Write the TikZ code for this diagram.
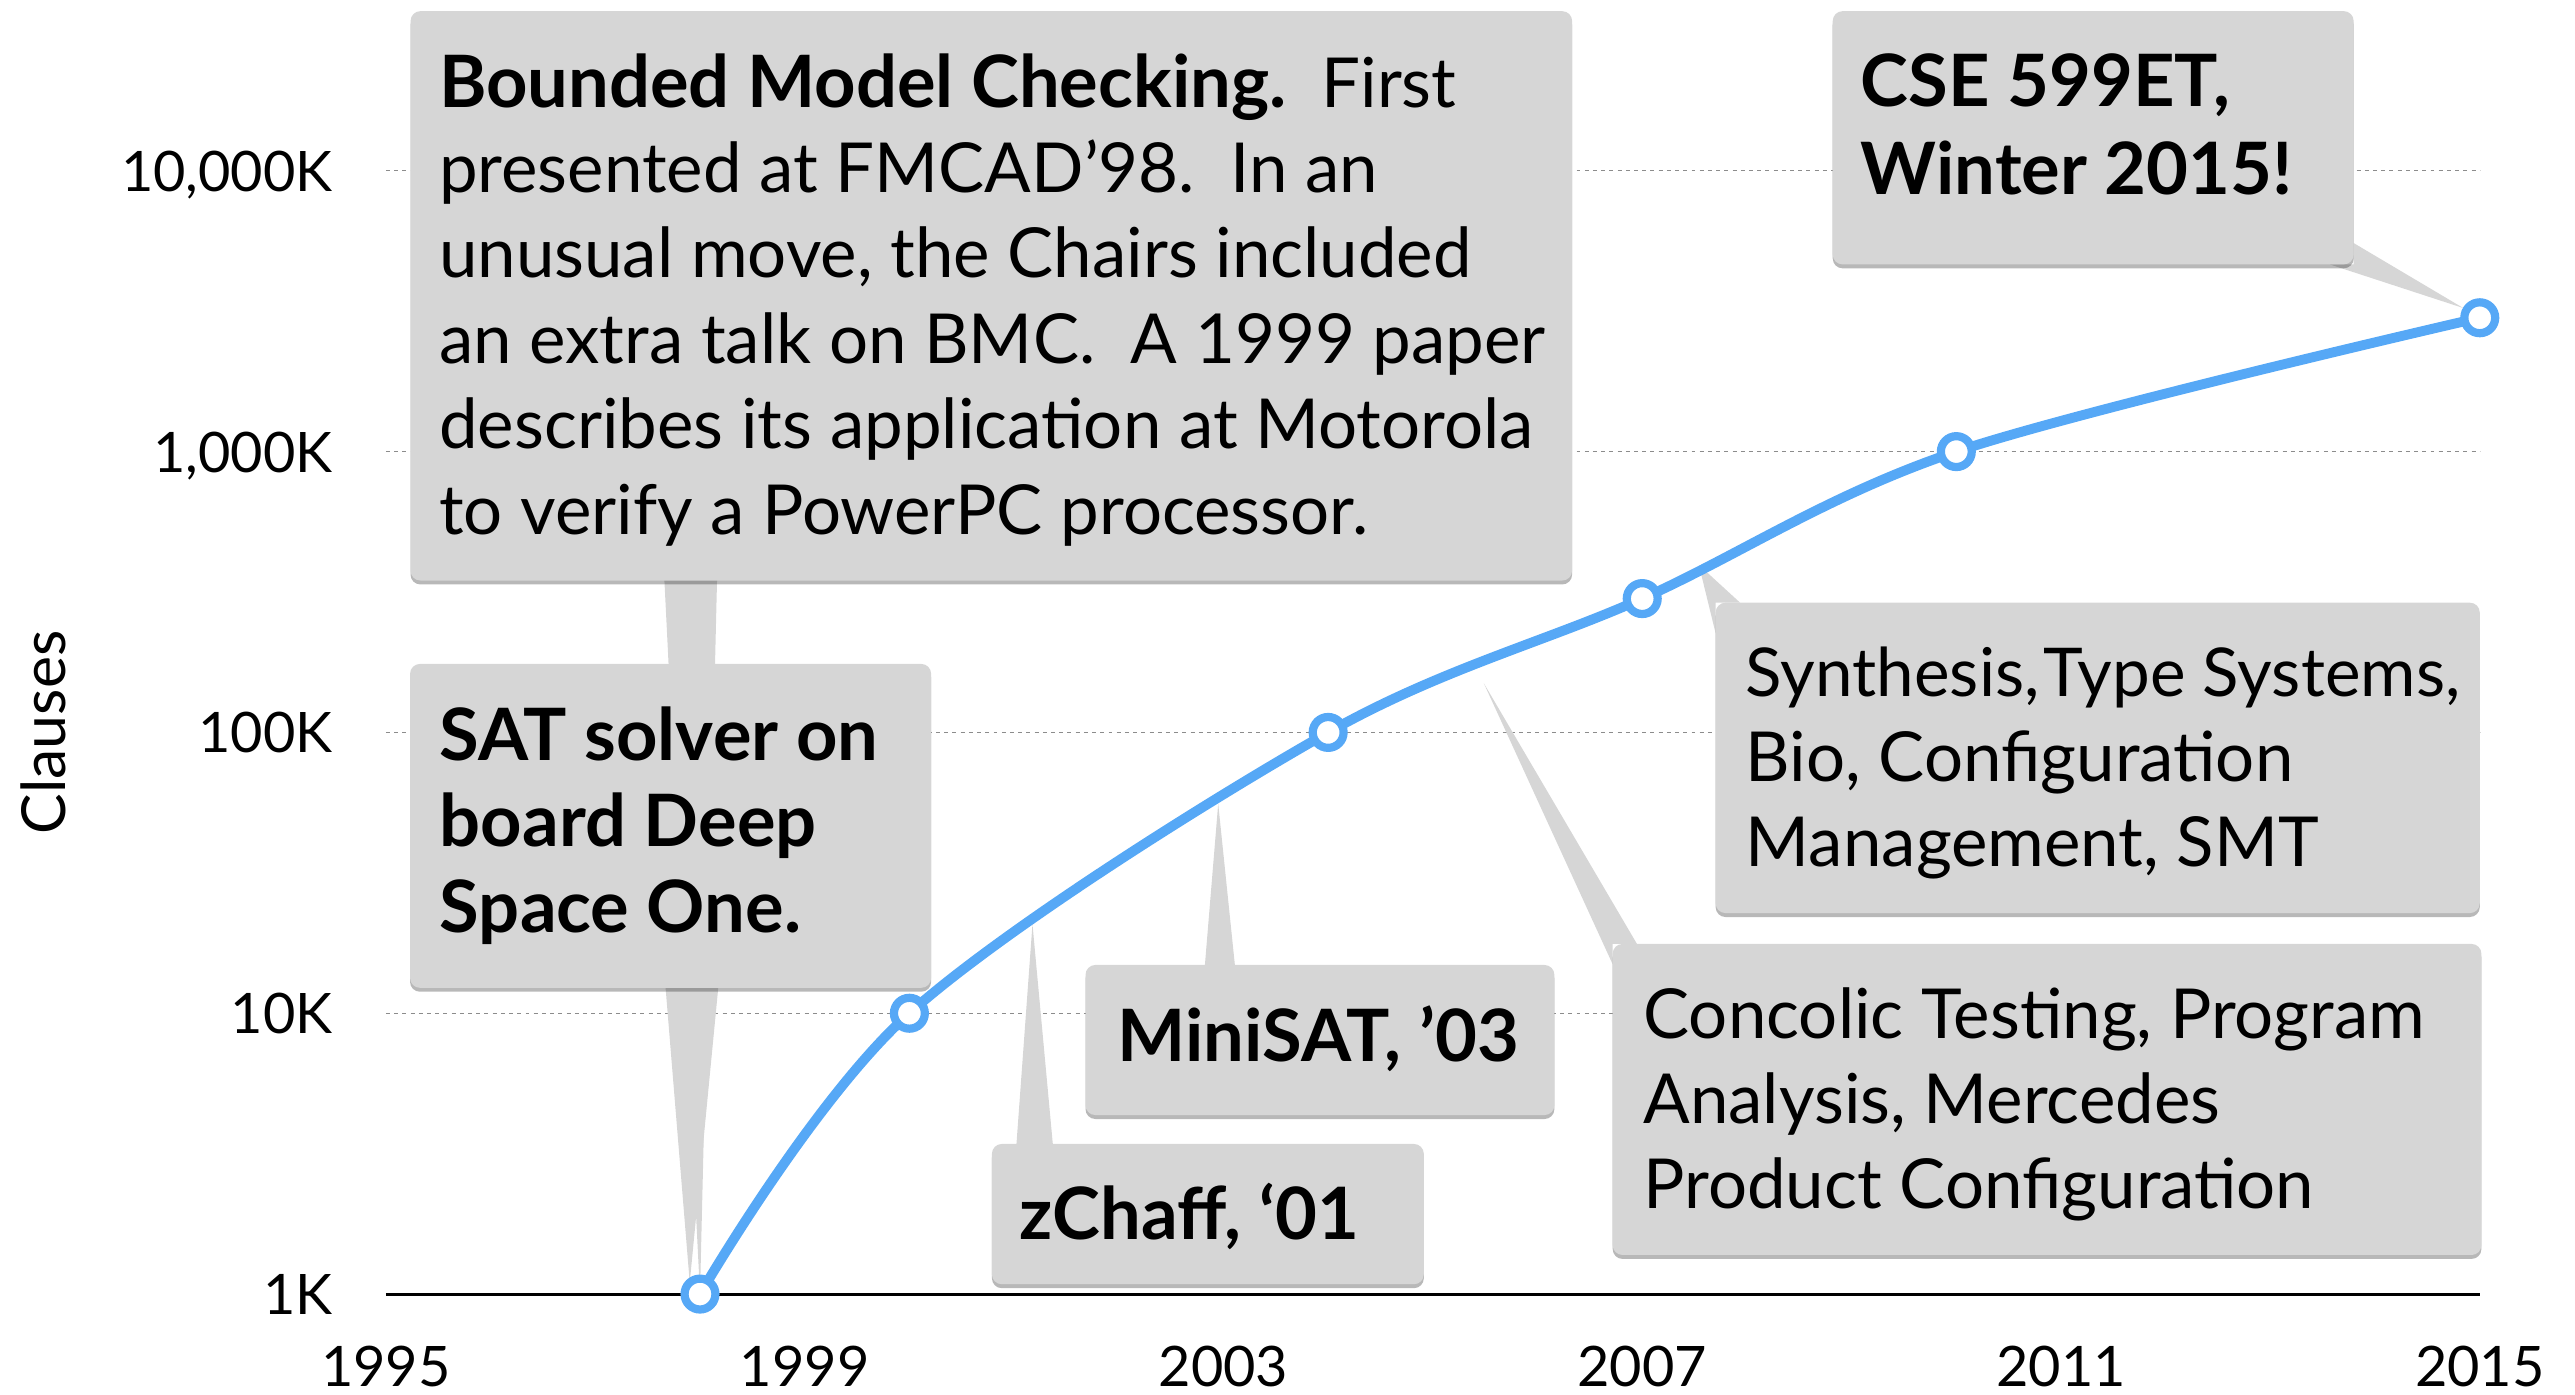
\documentclass[tikz,border=0pt]{standalone}
\usepackage{fontspec}
\setmainfont{Lato}
\usetikzlibrary{shadows,fit}

\definecolor{calloutgray}{RGB}{214,214,214}
\definecolor{curveblue}{RGB}{86,168,246}
\definecolor{gridgray}{RGB}{140,140,140}

\begin{document}
\begin{tikzpicture}[x=0.5pt,y=-0.5pt,
  box/.style={fill=calloutgray, rounded corners=3pt, inner sep=0pt, outer sep=0pt,
    drop shadow={shadow xshift=0pt, shadow yshift=-1.2pt, opacity=0.28, fill=black}},
  tail/.style={fill=calloutgray},
  body/.style={anchor=base west, inner sep=0pt, font=\fontsize{21}{26}\selectfont},
  strong/.style={body, font=\fontsize{22}{26}\selectfont\bfseries},
  ytick/.style={anchor=base east, inner sep=0pt, font=\fontsize{17}{20}\selectfont},
  xtick/.style={anchor=base, inner sep=0pt, font=\fontsize{17}{20}\selectfont},
  gridline/.style={draw=gridgray, line width=0.35pt, dash pattern=on 1.2pt off 1.3pt},
  dot/.style={circle, draw=curveblue, fill=white, line width=2.5pt,
    minimum size=9.4pt, inner sep=0pt}
]
\useasboundingbox (0,0) rectangle (1568,849);

% grid lines and the 1K base line
\foreach \y in {104,275,446,617}
  \draw[gridline] (235,\y) -- (1510,\y);
\draw[line width=0.9pt] (235,788) -- (1510,788);

% axis labels
\node[ytick] (y10m) at (203,116.5) {10,000K};
\node[ytick] (y1m)  at (203,287.5) {1,000K};
\node[ytick] (y100k) at (203,458.5) {100K};
\node[ytick] (y10k) at (203,629.5) {10K};
\node[ytick] (y1k)  at (203,800.5) {1K};
\node[xtick] (x1995) at (235,844.4) {1995};
\node[xtick] (x1999) at (490,844.4) {1999};
\node[xtick] (x2003) at (745,844.4) {2003};
\node[xtick] (x2007) at (1000,844.4) {2007};
\node[xtick] (x2011) at (1255,844.4) {2011};
\node[xtick] (x2015) at (1510,844.4) {2015};
\node[rotate=90, anchor=base, inner sep=0pt, font=\fontsize{18.5}{20}\selectfont]
  (yaxis) at (39.6,446) {Clauses};

% data points of the curve
\coordinate (c98) at (426.25,788);
\coordinate (c00) at (553.75,617);
\coordinate (c04) at (808.75,446);
\coordinate (c07) at (1000,364.5);
\coordinate (c10) at (1191.25,275);
\coordinate (c15) at (1510,193.5);

% callout tails
\fill[tail] (404.4,350) -- (436.7,350) -- (c98) -- cycle;
\fill[tail] (405,598) -- (437.7,598) -- (420,781) -- cycle;
\fill[tail] (618.7,700) -- (641.4,700) -- (628.7,562.7) -- cycle;
\fill[tail] (733.5,590) -- (752.2,590) -- (741.8,489.4) -- cycle;
\fill[tail] (903.5,416) -- (996.8,574.8) -- (982,574.8) -- (982,587.2) -- cycle;
\fill[tail] (1034.5,344) -- (1059.6,367) -- (1044.7,367) -- (1044.7,385.7) -- cycle;
\fill[tail] (1500,187.6) -- (1418.6,161) -- (1433.2,161) -- (1433.2,148) -- cycle;

% callout boxes
\node[box, fit={(250,6.8) (957.3,353.5)}] (bmc) {};
\node[box, fit={(249.7,404.3) (567,601.5)}] (sat) {};
\node[box, fit={(604,696.6) (867,782)}] (zchaff) {};
\node[box, fit={(661,587.6) (946.5,679)}] (minisat) {};
\node[box, fit={(982,574.8) (1511,764.2)}] (concolic) {};
\node[box, fit={(1044.7,367) (1510,556)}] (synth) {};
\node[box, fit={(1116,6.8) (1433.2,161)}] (cse) {};

% callout texts
\node[body] (bmc1) at (267,65.2) {{\fontsize{22}{26}\selectfont\bfseries Bounded Model Checking.}\ \ First};
\node[body] (bmc2) at (267,117.2) {presented at FMCAD’98.\ \ In an};
\node[body] (bmc3) at (267,169.2) {unusual move, the Chairs included};
\node[body] (bmc4) at (267,221.2) {an extra talk on BMC.\ \ A 1999 paper};
\node[body] (bmc5) at (267,273.2) {describes its application at Motorola};
\node[body] (bmc6) at (267,325.2) {to verify a PowerPC processor.};

\node[strong] (sat1) at (267.5,462.8) {SAT solver on};
\node[strong] (sat2) at (267.5,515.3) {board Deep};
\node[strong] (sat3) at (267.5,567.6) {Space One.};

\node[strong] (mini1) at (680,646.5) {MiniSAT, ’03};
\node[strong] (zchaff1) at (620.6,754.5) {zChaff, ‘01};

\node[body] (conc1) at (1000.4,632.3) {Concolic Testing, Program};
\node[body] (conc2) at (1000.4,684) {Analysis, Mercedes};
\node[body] (conc3) at (1000.4,735.8) {Product Configuration};

\node[body, font=\fontsize{20.5}{26}\selectfont] (syn1) at (1062.7,424.2) {Synthesis,\hspace{0.06em}Type Systems,};
\node[body] (syn2) at (1062.7,476) {Bio, Configuration};
\node[body] (syn3) at (1062.7,527.8) {Management, SMT};

\node[strong] (cse1) at (1132.8,64.7) {CSE 599ET,};
\node[strong] (cse2) at (1132.8,118.3) {Winter 2015!};

% growth curve with its data points
\draw[curveblue, line width=3pt, line cap=round, line join=round]
  plot[smooth, tension=0.55] coordinates {(c98) (c00) (c04) (c07) (c10) (c15)};
\foreach \p in {98,00,04,07,10,15}
  \node[dot] (p\p) at (c\p) {};
\end{tikzpicture}
\end{document}
